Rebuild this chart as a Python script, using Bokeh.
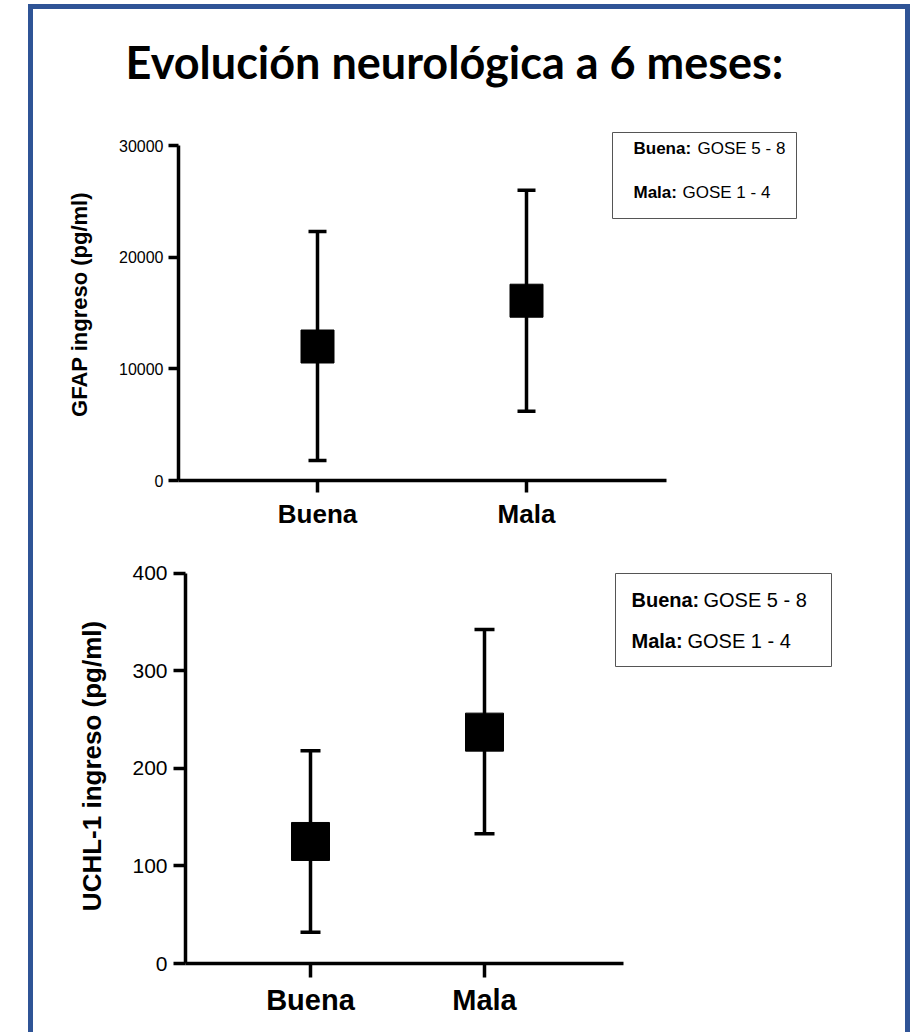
from bokeh.plotting import figure
from bokeh.models import (Range1d, Whisker, TeeHead, ColumnDataSource, Label,
                          BoxAnnotation, FixedTicker)
from bokeh.layouts import column
from bokeh.embed import file_html
from bokeh.resources import INLINE

# ---------------- data ----------------
categories = ["Buena", "Mala"]

gfap_mean = [12000, 16100]
gfap_lower = [1800, 6200]
gfap_upper = [22300, 26000]
gfap_ticks = [0, 10000, 20000, 30000]

uchl_mean = [125, 237]
uchl_lower = [32, 133]
uchl_upper = [218, 342]
uchl_ticks = [0, 100, 200, 300, 400]

legend_bold = ["Buena:", "Mala:"]
legend_text = ["GOSE 5 - 8", "GOSE 1 - 4"]
title_text = "Evolución neurológica a 6 meses:"

FONT = "Liberation Sans"
BLUE = "#2F5496"

# ---------------- layout (page pixels) ----------------
FIG_LEFT, FIG_RIGHT = 33, 905
TOP = 9          # first content pixel inside the blue frame
TITLE_BOTTOM = 109


def make_panel(fig_top, fig_bottom, frame, cats_px, axis_end_px, y0_px, ytop_px,
               ymax, mean, lower, upper, ticks, ylabel, sizes, legend_geom):
    fl, fr, ft, fb = frame
    c1, c2 = cats_px
    ux = (c2 - c1)  # px per category unit
    uy = (y0_px - ytop_px) / ymax

    def xd(px):
        return 1 + (px - c1) / ux

    def yd(py):
        return (y0_px - py) / uy

    p = figure(width=FIG_RIGHT - FIG_LEFT, height=fig_bottom - fig_top,
               output_backend="svg", toolbar_location=None, title=None,
               x_range=Range1d(xd(fl), xd(fr)), y_range=Range1d(yd(fb), yd(ft)),
               min_border_left=fl - FIG_LEFT, min_border_right=FIG_RIGHT - fr,
               min_border_top=ft - fig_top, min_border_bottom=fig_bottom - fb,
               frame_align=False)
    p.outline_line_color = None
    p.xgrid.visible = False
    p.ygrid.visible = False
    p.background_fill_color = "white"
    p.border_fill_color = "white"

    xs = [i + 1 for i in range(len(categories))]
    src = ColumnDataSource(dict(x=xs, mean=mean, lower=lower, upper=upper))

    lw = sizes["lw"]
    w = Whisker(source=src, base="x", upper="upper", lower="lower",
                dimension="height", line_width=lw, line_color="black",
                upper_head=TeeHead(size=sizes["cap"], line_width=lw, line_color="black"),
                lower_head=TeeHead(size=sizes["cap"], line_width=lw, line_color="black"))
    p.add_layout(w)
    p.scatter(x="x", y="mean", source=src, marker="square", size=sizes["sq"],
              fill_color="black", line_color="black")

    # x axis
    xa = p.xaxis[0]
    xa.ticker = FixedTicker(ticks=xs)
    xa.major_label_overrides = {x: c for x, c in zip(xs, categories)}
    xa.bounds = (xd(fl), xd(axis_end_px))
    xa.axis_line_width = lw
    xa.major_tick_line_width = lw
    xa.major_tick_in = 0
    xa.major_tick_out = sizes["xtick"]
    xa.minor_tick_line_color = None
    xa.major_label_text_font = FONT
    xa.major_label_text_font_style = "bold"
    xa.major_label_text_font_size = sizes["xlab"]
    xa.major_label_text_color = "black"
    xa.major_label_standoff = sizes["xstand"]

    ya = p.yaxis[0]
    ya.ticker = FixedTicker(ticks=ticks)
    ya.bounds = (0, ymax)
    ya.axis_line_width = lw
    ya.major_tick_line_width = lw
    ya.major_tick_in = 0
    ya.major_tick_out = sizes["ytick"]
    ya.minor_tick_line_color = None
    ya.major_label_text_font = FONT
    ya.major_label_text_font_size = sizes["ytl"]
    ya.major_label_text_color = "black"
    ya.major_label_standoff = sizes["ystand"]
    ya.axis_label = ylabel
    ya.axis_label_text_font = FONT
    ya.axis_label_text_font_style = "bold"
    ya.axis_label_text_font_size = sizes["ylab"]
    ya.axis_label_text_color = "black"
    ya.axis_label_standoff = sizes["ylstand"]

    # legend box
    bl, br, bt, bb, tx, tx2, ty = legend_geom
    p.add_layout(BoxAnnotation(left=xd(bl), right=xd(br), top=yd(bt), bottom=yd(bb),
                               fill_color="white", fill_alpha=1.0,
                               line_color="#555555", line_width=1, line_alpha=1.0))
    for i in range(len(legend_bold)):
        p.add_layout(Label(x=xd(tx), y=yd(ty[i]), text=legend_bold[i],
                           text_font=FONT, text_font_style="bold",
                           text_font_size=sizes["leg"], text_baseline="middle",
                           text_color="black"))
        p.add_layout(Label(x=xd(tx2[i]), y=yd(ty[i]), text=legend_text[i],
                           text_font=FONT, text_font_size=sizes["leg"],
                           text_baseline="middle", text_color="black"))
    return p


# ---------------- title strip (a plain canvas, one data unit = one pixel) ----------------
p0 = figure(width=FIG_RIGHT - FIG_LEFT, height=TITLE_BOTTOM - TOP,
            output_backend="svg", toolbar_location=None, title=None,
            x_range=Range1d(FIG_LEFT, FIG_RIGHT), y_range=Range1d(TITLE_BOTTOM, TOP),
            x_axis_location=None, y_axis_location=None, min_border=0,
            frame_align=False)
p0.outline_line_color = None
p0.xgrid.visible = False
p0.ygrid.visible = False
p0.border_fill_color = "white"
p0.background_fill_color = "white"
p0.add_layout(Label(x=454, y=61, text=title_text, text_font="Lato",
                    text_font_style="bold", text_font_size="45px",
                    text_align="center", text_baseline="alphabetic",
                    text_color="black"))

p1 = make_panel(
    fig_top=TITLE_BOTTOM, fig_bottom=545, frame=(178, 835, 128, 480), cats_px=(317, 526),
    axis_end_px=666, y0_px=480, ytop_px=145, ymax=30000,
    mean=gfap_mean, lower=gfap_lower, upper=gfap_upper, ticks=gfap_ticks,
    ylabel="GFAP ingreso (pg/ml)",
    sizes=dict(lw=3.5, cap=18, sq=33, xtick=12, xlab="26px", xstand=6,
               ytick=10, ytl="16px", ystand=5, ylab="22px", ylstand=24, leg="17px"),
    legend_geom=(612, 796, 132, 218, 633, (697, 682), (148, 192)))

p2 = make_panel(
    fig_top=545, fig_bottom=1032, frame=(185, 835, 568, 963), cats_px=(310, 484),
    axis_end_px=623, y0_px=963, ytop_px=572.5, ymax=400,
    mean=uchl_mean, lower=uchl_lower, upper=uchl_upper, ticks=uchl_ticks,
    ylabel="UCHL-1 ingreso (pg/ml)",
    sizes=dict(lw=3.5, cap=20, sq=38, xtick=14, xlab="29px", xstand=6,
               ytick=12, ytl="21px", ystand=6, ylab="26px", ylstand=22, leg="20px"),
    legend_geom=(615, 831, 573, 666, 631, (703, 687), (599, 640)))

layout = column(p0, p1, p2, spacing=0, margin=(4, 0, 0, 28),
                styles={"border-left": f"5px solid {BLUE}",
                        "border-right": f"5px solid {BLUE}",
                        "border-top": f"5px solid {BLUE}",
                        "background": "white"})

open("out.html", "w").write(file_html(layout, INLINE))
